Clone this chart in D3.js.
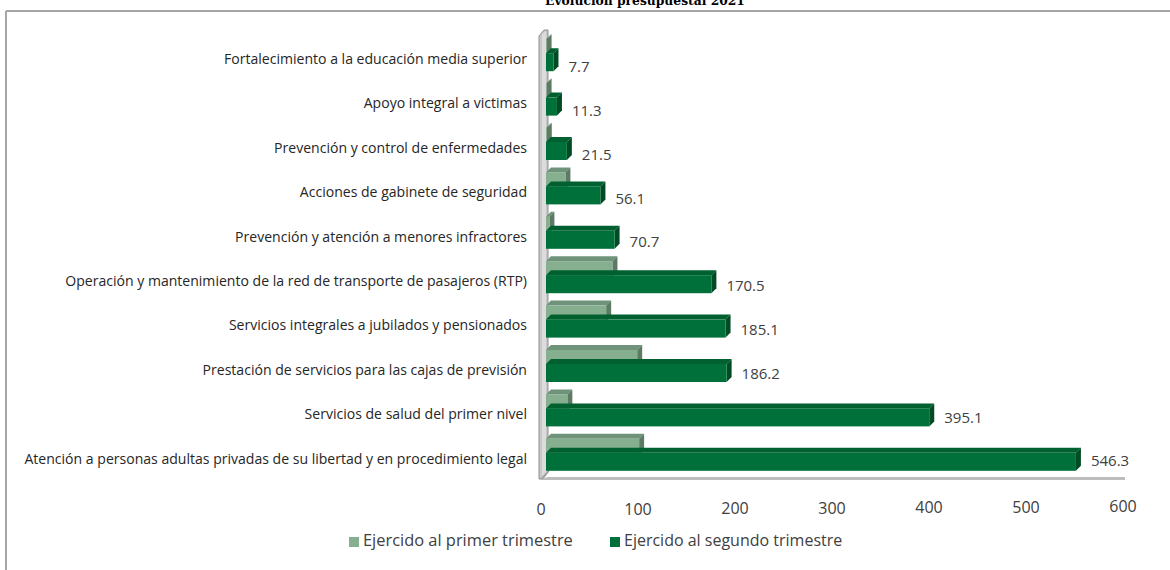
<!DOCTYPE html>
<html>
<head>
<meta charset="utf-8">
<script src="https://cdn.jsdelivr.net/npm/d3@7"></script>
<style>
  html, body { margin: 0; padding: 0; background: #fff; }
  svg { display: block; }
</style>
</head>
<body>
<svg id="chart" width="1170" height="570"></svg>
<script>
const title = "Evolución presupuestal 2021";
const categories = [
  "Fortalecimiento a la educación media superior",
  "Apoyo integral a victimas",
  "Prevención y control de enfermedades",
  "Acciones de gabinete de seguridad",
  "Prevención y atención a menores infractores",
  "Operación y mantenimiento de la red de transporte de pasajeros (RTP)",
  "Servicios integrales a jubilados y pensionados",
  "Prestación de servicios para las cajas de previsión",
  "Servicios de salud del primer nivel",
  "Atención a personas adultas privadas de su libertad y en procedimiento legal"
];
const primerTrimestre = [0.6, 0.6, 0.8, 20.0, 3.5, 68.5, 62.0, 94.0, 22.0, 96.0];
const segundoTrimestre = [7.7, 11.3, 21.5, 56.1, 70.7, 170.5, 185.1, 186.2, 395.1, 546.3];
const seriesNames = ["Ejercido al primer trimestre", "Ejercido al segundo trimestre"];
const tickValues = [0, 100, 200, 300, 400, 500, 600];

const svg = d3.select("#chart");
const FONT = "'Open Sans', 'Noto Sans', sans-serif";

// depth of the 3D effect
const DX = 5, DY = -5;

const xBar = d3.scaleLinear().domain([0, 600]).range([546, 1128]);
const xTick = d3.scaleLinear().domain([0, 600]).range([541, 1123]);
const y = d3.scaleBand().domain(categories).range([38, 482]).padding(0);

const colors = {
  light: { front: "#85af8e", top: "#6f937a", side: "#5c7a64" },
  dark:  { front: "#00703a", top: "#00602f", side: "#004b24" }
};

// frame
svg.append("line").attr("x1", 6).attr("y1", 11).attr("x2", 1170).attr("y2", 11)
  .attr("stroke", "#a6a6a6").attr("stroke-width", 2);
svg.append("line").attr("x1", 6).attr("y1", 11).attr("x2", 6).attr("y2", 570)
  .attr("stroke", "#a6a6a6").attr("stroke-width", 2);

// title (partly above the top edge, as in the reference)
const t = svg.append("text").attr("x", 645).attr("y", 5)
  .attr("text-anchor", "middle")
  .attr("font-family", "'DejaVu Serif', 'Liberation Serif', serif")
  .attr("font-weight", "bold").attr("font-size", 14)
  .attr("fill", "#000").text(title);
{
  const w = t.node().getComputedTextLength();
  t.attr("font-size", 14 * 200 / w);
}

// wall
const wallTop = y.range()[0] - 8, wallBot = y.range()[1] - 4;
svg.append("path")
  .attr("d", `M539,${wallTop + 6} L544,${wallTop} L548,${wallTop} L548,${wallBot - 6} L543,${wallBot + 1} L539,${wallBot + 1} Z`)
  .attr("fill", "#c8c8c8").attr("stroke", "#8f8f8f").attr("stroke-width", 1);
svg.append("path")
  .attr("d", `M542,${wallTop + 4} L546,${wallTop + 1} L546,${wallBot - 6} L542,${wallBot - 2} Z`)
  .attr("fill", "#dcdcdc");

// floor
svg.append("path")
  .attr("d", `M539,${wallBot + 2} L1125,${wallBot + 2} L1125,${wallBot - 1} L548,${wallBot - 1} Z`)
  .attr("fill", "#bdbdbd");
svg.append("line").attr("x1", 541).attr("y1", wallBot + 1).attr("x2", 549).attr("y2", wallBot - 7)
  .attr("stroke", "#a0a0a0").attr("stroke-width", 1.5);

function bar3d(g, x0, x1, yTop, h, c) {
  g.append("path")
    .attr("d", `M${x0},${yTop} L${x1},${yTop} L${x1 + DX},${yTop + DY} L${x0 + DX},${yTop + DY} Z`)
    .attr("fill", c.top);
  g.append("path")
    .attr("d", `M${x1},${yTop} L${x1 + DX},${yTop + DY} L${x1 + DX},${yTop + h + DY} L${x1},${yTop + h} Z`)
    .attr("fill", c.side);
  g.append("rect").attr("x", x0).attr("y", yTop).attr("width", Math.max(0, x1 - x0)).attr("height", h)
    .attr("fill", c.front);
}

const barsG = svg.append("g");
categories.forEach((cat, i) => {
  const yc = y(cat) + y.bandwidth() / 2;
  bar3d(barsG, xBar(0), xBar(primerTrimestre[i]), yc - 21, 16, colors.light);
  bar3d(barsG, xBar(0), xBar(segundoTrimestre[i]), yc - 7, 18, colors.dark);
});

// value labels for second quarter
categories.forEach((cat, i) => {
  const yc = y(cat) + y.bandwidth() / 2;
  svg.append("text")
    .attr("x", xBar(segundoTrimestre[i]) + 15)
    .attr("y", yc + 8 - 0.6 * i)
    .attr("dominant-baseline", "middle")
    .attr("font-family", FONT).attr("font-size", 15).attr("fill", "#404040")
    .text(d3.format(".1f")(segundoTrimestre[i]));
});

// category labels
const catTexts = svg.append("g").selectAll("text").data(categories).join("text")
  .attr("x", 527)
  .attr("y", d => y(d) + y.bandwidth() / 2)
  .attr("text-anchor", "end")
  .attr("dominant-baseline", "middle")
  .attr("font-family", FONT).attr("font-size", 14).attr("fill", "#262626")
  .text(d => d);
{
  let maxW = 0;
  catTexts.each(function () { maxW = Math.max(maxW, this.getComputedTextLength()); });
  catTexts.attr("font-size", 14 * 503 / maxW);
}

// x tick labels
svg.append("g").selectAll("text").data(tickValues).join("text")
  .attr("x", d => xTick(d))
  .attr("y", d => 511 - d / 200)
  .attr("text-anchor", "middle")
  .attr("dominant-baseline", "middle")
  .attr("font-family", FONT).attr("font-size", 16).attr("fill", "#404040")
  .text(d => d);

// legend
const legend = [
  { name: seriesNames[0], color: colors.light.front, x: 349 },
  { name: seriesNames[1], color: colors.dark.front, x: 610 }
];
legend.forEach(l => {
  svg.append("rect").attr("x", l.x).attr("y", 537).attr("width", 10).attr("height", 10).attr("fill", l.color);
  const lt = svg.append("text").attr("x", l.x + 14).attr("y", 542)
    .attr("dominant-baseline", "middle")
    .attr("font-family", FONT).attr("font-size", 16).attr("fill", "#404040")
    .text(l.name);
  const w = lt.node().getComputedTextLength();
  if (l.x === 349) lt.attr("font-size", 16 * 210 / w);
});
</script>
</body>
</html>
